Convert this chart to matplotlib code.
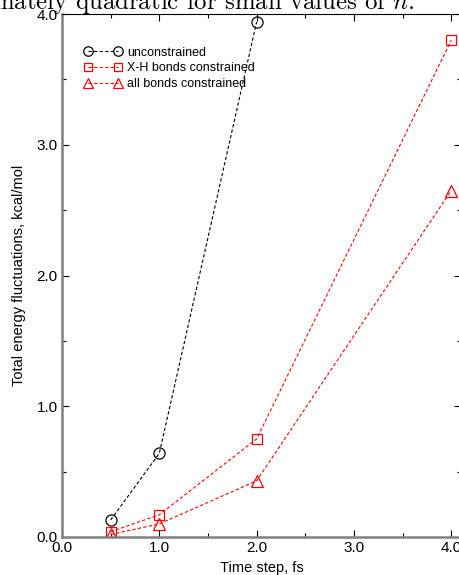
import matplotlib
matplotlib.use("Agg")
import matplotlib.pyplot as plt
from matplotlib.ticker import MultipleLocator

plt.rcParams['font.family'] = ['Liberation Sans', 'DejaVu Sans']
plt.rcParams['mathtext.fontset'] = 'cm'

# Energy fluctuation vs. time step
time_unc = [0.5, 1.0, 2.0]
energy_unc = [0.13, 0.64, 3.94]

time_xh = [0.5, 1.0, 2.0, 4.0]
energy_xh = [0.04, 0.17, 0.75, 3.80]

time_all = [0.5, 1.0, 2.0, 4.0]
energy_all = [0.02, 0.10, 0.43, 2.65]

x_ticks = [0.0, 1.0, 2.0, 3.0, 4.0]
y_ticks = [0.0, 1.0, 2.0, 3.0, 4.0]

fig = plt.figure(figsize=(4.6, 5.75), dpi=100)
ax = fig.add_axes([62 / 460, 38 / 575, 399 / 460, 523 / 575])

dash = (0, (3, 2))
ax.plot(time_unc, energy_unc, color='black', linestyle=dash, linewidth=0.8,
        marker='o', markersize=8, markerfacecolor='none', markeredgewidth=0.9,
        label='unconstrained')
ax.plot(time_xh, energy_xh, color='red', linestyle=dash, linewidth=0.8,
        marker='s', markersize=7.5, markerfacecolor='none', markeredgewidth=0.9,
        label='X-H bonds constrained')
ax.plot(time_all, energy_all, color='red', linestyle=dash, linewidth=0.8,
        marker='^', markersize=9, markerfacecolor='none', markeredgewidth=0.9,
        label='all bonds constrained')

ax.set_xlim(0, 4.1)
ax.set_ylim(0, 4.0)
ax.set_xticks(x_ticks)
ax.set_yticks(y_ticks)
ax.set_xticklabels(['%.1f' % v for v in x_ticks])
ax.set_yticklabels(['%.1f' % v for v in y_ticks])
ax.xaxis.set_minor_locator(MultipleLocator(0.5))
ax.yaxis.set_minor_locator(MultipleLocator(0.5))
ax.tick_params(which='both', direction='in', top=True, right=True,
               labelsize=11, width=0.8, color='black')
ax.tick_params(which='major', length=5, pad=3)
ax.tick_params(which='minor', length=3)

for side in ['left', 'bottom']:
    ax.spines[side].set_color('#808080')
    ax.spines[side].set_linewidth(1.8)
for side in ['top', 'right']:
    ax.spines[side].set_color('black')
    ax.spines[side].set_linewidth(0.8)

ax.set_xlabel('Time step, fs', fontsize=10.5, labelpad=4)
ax.set_ylabel('Total energy fluctuations, kcal/mol', fontsize=10.5, labelpad=8)

ax.legend(loc='upper left', bbox_to_anchor=(0.043, 0.947), frameon=False,
          fontsize=9, numpoints=2, markerscale=0.85, handlelength=3.0,
          handletextpad=0.45, labelspacing=0.3, borderaxespad=0)

# running text of the surrounding page
fig.text(415 / 460, 566 / 575, 'approximately quadratic for small values of $n$.',
         ha='right', va='baseline', fontsize=17.9, family='cmr10')

fig.savefig('out.png', dpi=100)
